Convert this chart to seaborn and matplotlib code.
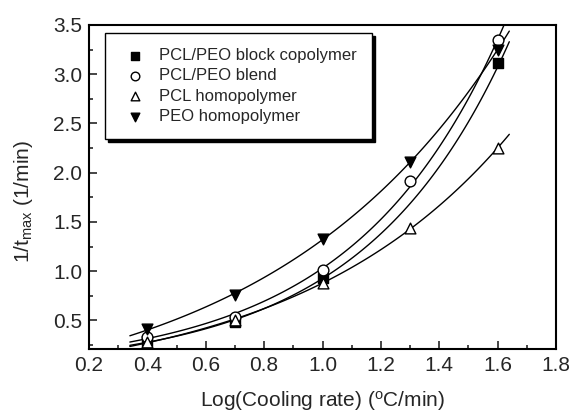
import numpy as np
import pandas as pd
import matplotlib
matplotlib.use("Agg")
import matplotlib.pyplot as plt
import seaborn as sns
from matplotlib.ticker import MultipleLocator

sns.set_style("ticks")
plt.rcParams['font.family'] = ['Liberation Sans', 'DejaVu Sans']
plt.rcParams['mathtext.fontset'] = 'custom'
plt.rcParams['mathtext.rm'] = 'Liberation Sans'
plt.rcParams['mathtext.it'] = 'Liberation Sans'

log_rate = [0.4, 0.7, 1.0, 1.3, 1.6]
block_copolymer = [0.29, 0.48, 0.93, np.nan, 3.11]
blend = [0.33, 0.54, 1.01, 1.92, 3.35]
pcl_homo = [0.28, 0.50, 0.88, 1.44, 2.25]
peo_homo = [0.41, 0.76, 1.33, 2.11, 3.25]

labels = ["PCL/PEO block copolymer", "PCL/PEO blend", "PCL homopolymer", "PEO homopolymer"]
series = [block_copolymer, blend, pcl_homo, peo_homo]
markers = ["s", "o", "^", "v"]
faces = ["black", "white", "white", "black"]


def exp_grow_fit(x, y):
    """Fit y = y0 + A*exp(b*x); with few points keep y0 = 0."""
    if len(x) < 5:
        b, la = np.polyfit(x, np.log(y), 1)
        return lambda t: np.exp(la) * np.exp(b * t)
    best = None
    for y0 in np.linspace(-3.0, y.min() - 0.01, 600):
        b, la = np.polyfit(x, np.log(y - y0), 1)
        pred = y0 + np.exp(la) * np.exp(b * x)
        sse = np.sum((pred - y) ** 2)
        if best is None or sse < best[0]:
            best = (sse, y0, la, b)
    _, y0, la, b = best
    return lambda t: y0 + np.exp(la) * np.exp(b * t)


fig = plt.figure(figsize=(5.73, 4.12), dpi=100)
ax = fig.add_axes([89/573, 1-349/412, (556-89)/573, (349-25)/412])

for lab, vals, m, fc in zip(labels, series, markers, faces):
    x = np.array(log_rate)
    y = np.array(vals, dtype=float)
    ok = ~np.isnan(y)
    f = exp_grow_fit(x[ok], y[ok])
    xf = np.linspace(0.34, 1.64, 120)
    fit = pd.DataFrame({"x": xf, "y": f(xf)})
    sns.lineplot(data=fit, x="x", y="y", ax=ax, color="black", lw=1.0, legend=False)
    df = pd.DataFrame({"x": x[ok], "y": y[ok]})
    sns.scatterplot(data=df, x="x", y="y", ax=ax, marker=m, s=60, color=fc,
                    edgecolor="black", linewidth=1.0, label=lab, zorder=3)

ax.set_xlim(0.2, 1.8)
ax.set_ylim(0.21, 3.5)
ax.xaxis.set_major_locator(MultipleLocator(0.2))
ax.xaxis.set_minor_locator(MultipleLocator(0.1))
ax.yaxis.set_major_locator(MultipleLocator(0.5))
ax.yaxis.set_minor_locator(MultipleLocator(0.25))
ax.tick_params(which='both', direction='in', width=1.2, labelsize=15, pad=5)
ax.tick_params(which='major', length=6)
ax.tick_params(which='minor', length=3)
ax.set_yticks([0.5, 1.0, 1.5, 2.0, 2.5, 3.0, 3.5])
for s in ax.spines.values():
    s.set_linewidth(1.5)
    s.set_color('black')

ax.set_xlabel(r'Log(Cooling rate) ($^{\mathrm{o}}$C/min)', fontsize=15, labelpad=10)
ax.set_ylabel(r'1/t$_{\mathrm{max}}$ (1/min)', fontsize=15)
ax.yaxis.set_label_coords(-0.116, 0.454)

leg = ax.legend(loc='upper left', bbox_to_anchor=(0.034, 0.975), frameon=True, fancybox=False,
                shadow={'color': 'black', 'alpha': 1.0}, fontsize=12, handletextpad=0.55,
                labelspacing=0.32, borderpad=0.9, borderaxespad=0, markerscale=0.8,
                handlelength=1.8)
leg.get_frame().set_edgecolor('black')
leg.get_frame().set_linewidth(1.0)

fig.savefig("out.png", dpi=100)
